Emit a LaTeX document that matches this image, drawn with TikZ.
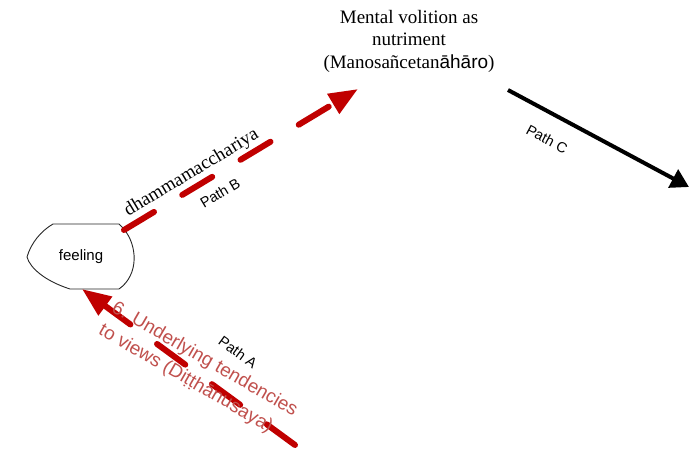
\documentclass[tikz,border=0pt]{standalone}
\usepackage{fontspec}
\setmainfont{Liberation Serif}
\setsansfont{Liberation Sans}
\usetikzlibrary{arrows.meta}
\definecolor{arrowred}{HTML}{C00000}
\definecolor{textred}{HTML}{C0504D}
\begin{document}
\begin{tikzpicture}[x=1pt,y=-1pt,
  redarrow/.style={draw=arrowred, line width=6pt, line cap=round,
    dash pattern=on 35pt off 33pt, -{Triangle[length=29pt,width=22pt]}},
  blackarrow/.style={draw=black, line width=4pt, -{Triangle[length=18pt,width=20pt]}},
  pathlabel/.style={font=\sffamily\fontsize{14.5}{17}\selectfont, inner sep=0pt},
  titletext/.style={font=\fontsize{19}{22.5}\selectfont, align=center, inner sep=0pt},
  redtext/.style={font=\sffamily\fontsize{19}{26}\selectfont, text=textred, align=left, inner sep=0pt},
  serifline/.style={font=\fontsize{19}{22}\selectfont, inner sep=0pt},
  shapeline/.style={draw=black!85, line width=0.9pt}
]
\useasboundingbox (0,0) rectangle (700,449);
% feeling shape
\draw[shapeline] (53,224) -- (119,224) -- (123,228)
  .. controls (138,245) and (139,275) .. (119,289) -- (70,289)
  .. controls (45,281) and (30,268) .. (27,257)
  .. controls (31,243) and (41,231) .. (53,224) -- cycle;
\node[pathlabel, font=\sffamily\fontsize{15}{18}\selectfont] (feeling) at (81,257) {feeling};
% title
\node[titletext] (mv) at (409,41) {Mental volition as\\nutriment\\(Manosañcetan{\sffamily āhāro})};
% connector end points
\coordinate (fB) at (124,230);
\coordinate (fA) at (82,289);
\coordinate (mvB) at (358,89);
\coordinate (mvC) at (508,90);
\coordinate (cEnd) at (689,187);
\coordinate (aStart) at (295,445);
% connectors
\draw[redarrow] (fB) -- (mvB);
\draw[redarrow] (aStart) -- (fA);
\draw[blackarrow] (mvC) -- (cEnd);
% labels
\node[serifline, anchor=base, rotate=31] (dham) at (194,177) {dhammamacchariya};
\node[pathlabel, rotate=31] (pB) at (220,193) {Path B};
\node[pathlabel, rotate=-28] (pC) at (547,139) {Path C};
\node[pathlabel, rotate=-36] (pA) at (238,352) {Path A};
\node[redtext, rotate=-30] (ul) at (198,371) {6. Underlying tendencies\\to views (Diṭṭhānusaya)};
\end{tikzpicture}
\end{document}
